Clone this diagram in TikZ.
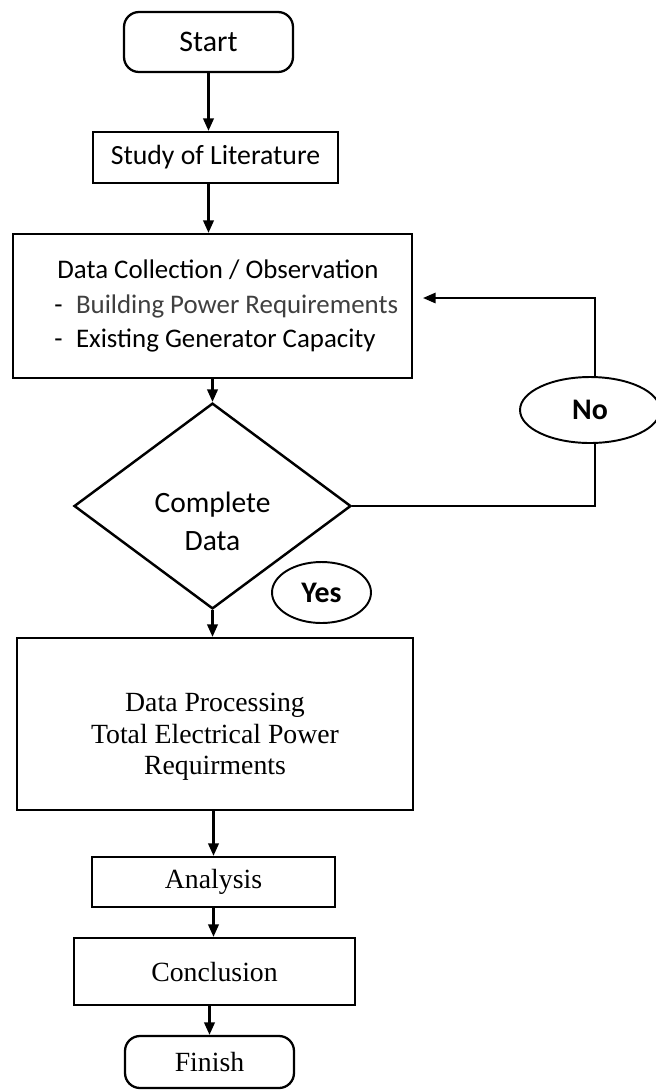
\documentclass[tikz,border=0pt]{standalone}
\usepackage{fontspec}
\setmainfont{Carlito}
\newfontfamily\cambria{Liberation Serif}
\usepackage{xcolor}
\usepackage{tikz}
\usetikzlibrary{arrows.meta,positioning,shapes.geometric}

\begin{document}
\begin{tikzpicture}[
  x=0.02cm, y=-0.02cm,
  box/.style={draw, line width=1.3pt, align=center, inner sep=0pt, font=\fontsize{15.8}{19.5}\selectfont},
  term/.style={box, rounded corners=0.3cm, font=\fontsize{17}{20}\selectfont},
  proc/.style={box, font=\cambria\fontsize{15.8}{18}\selectfont},
  decision/.style={box, diamond, line width=1.4pt, font=\fontsize{16.8}{22}\selectfont},
  tag/.style={draw, ellipse, fill=white, line width=1.1pt, inner sep=0pt, font=\bfseries\fontsize{17}{20}\selectfont},
  arr/.style={-{Triangle[width=0.21cm,length=0.25cm]}, line width=1.3pt},
  back/.style={arr, line width=0.8pt}
]
\useasboundingbox (0,0) rectangle (656,1090);

\node[term, minimum width=3.38cm, minimum height=1.2cm] (start) at (208.5,42) {Start};
\node[box, minimum width=4.9cm, minimum height=1.02cm] (study) at (215.5,157.5) {Study of Literature};
\node[box, minimum width=7.98cm, minimum height=2.88cm, align=left, font=\fontsize{15.3}{19.5}\selectfont] (collect) at (212.5,306)
  {\hspace*{0.61cm}Data Collection / Observation\\\hspace*{0.55cm}-\hspace{0.5em}\textcolor{black!75}{Building Power Requirements}\\\hspace*{0.55cm}-\hspace{0.5em}Existing Generator Capacity};
\node[decision, minimum width=5.54cm, minimum height=3.34cm] (decide) at (212.5,506) {\rule{0pt}{29pt}Complete\\Data};
\node[tag, minimum width=1.98cm, minimum height=1.22cm] (yes) at (321.5,592.5) {Yes};
\node[proc, minimum width=7.92cm, minimum height=3.44cm] (process) at (215,724)
  {\rule{0pt}{25pt}Data Processing\\Total Electrical Power\\Requirments};
\node[proc, minimum width=4.86cm, minimum height=1cm] (analysis) at (213.5,882) {Analysis};
\node[proc, minimum width=5.62cm, minimum height=1.34cm] (concl) at (214.5,971.5) {Conclusion};
\node[proc, rounded corners=0.3cm, minimum width=3.38cm, minimum height=1.04cm] (finish) at (209.5,1062) {Finish};

% main flow
\draw[arr] (start) -- (start |- study.north);
\draw[arr] (start |- study.south) -- (start |- collect.north);
\draw[arr] (decide |- collect.south) -- (decide);
\draw[arr] (decide) -- (decide |- process.north);
\draw[arr] (analysis |- process.south) -- (analysis);
\draw[arr] (analysis) -- (analysis |- concl.north);
\draw[arr] (finish |- concl.south) -- (finish);

% back to data collection
\coordinate (turn) at (595,298);
\draw[back, shorten >=0.2cm] (decide.east) -| (turn) -- (collect.east |- turn);
\node[tag, minimum width=2.8cm, minimum height=1.32cm] (no) at (590,410) {No};
\end{tikzpicture}
\end{document}
